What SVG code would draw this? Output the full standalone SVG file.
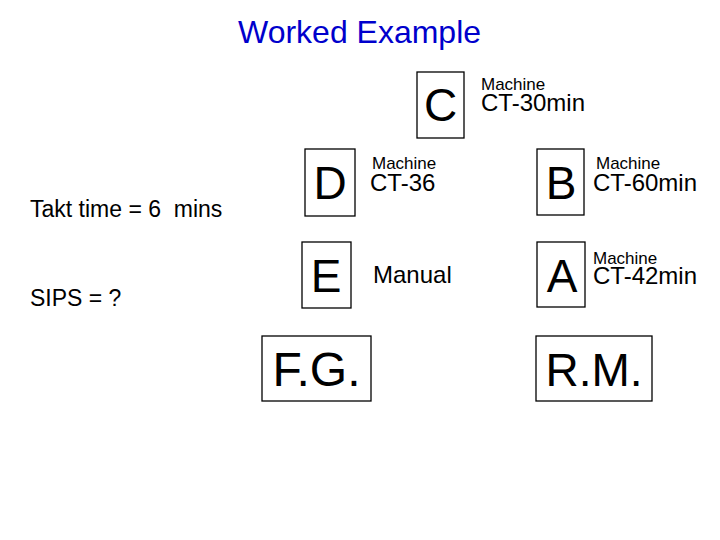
<svg xmlns="http://www.w3.org/2000/svg" width="720" height="540" viewBox="0 0 720 540">
<style>
text{font-family:"Liberation Sans",Arial,sans-serif;fill:#000}
.box{fill:#fff;stroke:#000;stroke-width:1.3}
.big{font-size:46px;text-anchor:middle}
.mach{font-size:17px}
.ct{font-size:24px}
.side{font-size:23px}
.title{font-size:32px;fill:#0000cc}
</style>
<rect width="720" height="540" fill="#fff"/>
<text class="title" x="238" y="43">Worked Example</text>
<text class="side" x="30" y="217" xml:space="preserve">Takt time = 6  mins</text>
<text class="side" x="30" y="306">SIPS = ?</text>
<g id="connectors"></g>
<g id="C">
<rect class="box" x="417" y="72" width="47" height="66"/>
<text class="big" x="440.5" y="121">C</text>
<text class="mach" x="481" y="90">Machine</text>
<text class="ct" x="481" y="111">CT-30min</text>
</g>
<g id="D">
<rect class="box" x="305" y="149" width="50" height="67"/>
<text class="big" x="330" y="199">D</text>
<text class="mach" x="372" y="169">Machine</text>
<text class="ct" x="370" y="191">CT-36</text>
</g>
<g id="B">
<rect class="box" x="537" y="149" width="47" height="66"/>
<text class="big" x="561" y="199">B</text>
<text class="mach" x="596" y="169">Machine</text>
<text class="ct" x="593" y="191">CT-60min</text>
</g>
<g id="E">
<rect class="box" x="302" y="242" width="49" height="66"/>
<text class="big" x="326" y="292">E</text>
<text class="side" x="373" y="283" style="font-size:24px">Manual</text>
</g>
<g id="A">
<rect class="box" x="537" y="242" width="48" height="65"/>
<text class="big" x="562" y="292">A</text>
<text class="mach" x="593" y="264">Machine</text>
<text class="ct" x="593" y="284">CT-42min</text>
</g>
<g id="FG">
<rect class="box" x="262" y="336" width="109" height="65"/>
<text class="big" x="316.5" y="386" style="font-size:48px">F.G.</text>
</g>
<g id="RM">
<rect class="box" x="536" y="336" width="116" height="65"/>
<text class="big" x="594" y="386">R.M.</text>
</g>
</svg>
